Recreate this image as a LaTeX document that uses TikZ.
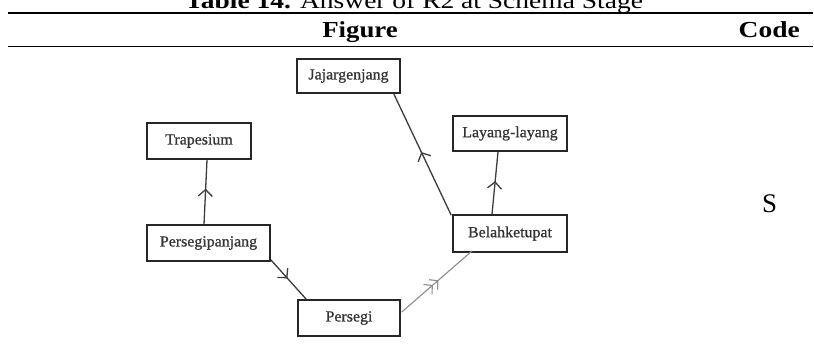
\documentclass[tikz,border=0pt]{standalone}
\usepackage{fontspec}
\setmainfont{Liberation Serif}
\newfontfamily\boxfont[FakeBold=0.8]{Liberation Serif}
\usetikzlibrary{arrows.meta,decorations.markings,calc}
\definecolor{boxline}{HTML}{262626}
\definecolor{conn}{HTML}{3C3C3C}
\definecolor{connlight}{HTML}{8C8C8C}
\definecolor{txt}{HTML}{333333}
\tikzset{
  shapebox/.style={draw=boxline, line width=1.5bp, inner sep=0pt, text=txt,
    font=\boxfont\fontsize{15.5}{17}\selectfont},
  hdr/.style={anchor=base, inner sep=0pt, font=\fontsize{23}{27}\selectfont\bfseries},
  chev/.style={line width=1.3bp, draw=conn, postaction={decorate},
    decoration={markings, mark=at position #1 with {\arrow{Straight Barb[length=6.5bp,width=14bp,line width=1.3bp]}}}},
  chevdouble/.style={line width=1.1bp, draw=connlight, postaction={decorate},
    decoration={markings, mark=at position #1 with {\arrow{Straight Barb[length=6bp,width=13bp,line width=1.1bp] Straight Barb[length=6bp,width=13bp,line width=1.1bp]}}}},
}
\begin{document}
\begin{tikzpicture}[x=1bp,y=-1bp]
\useasboundingbox (0,0) rectangle (814,354);
\clip (0,0) rectangle (814,354);
% table rules
\draw[line width=1.6bp] (8,13) -- (813,13);
\draw[line width=0.8bp] (8,46.5) -- (813,46.5);
\draw[line width=1.6bp] (8,46.5) -- (124,46.5);
\draw[line width=1.6bp] (597,46.5) -- (813,46.5);
% title and headers
\node[anchor=base, inner sep=0pt, font=\fontsize{23}{27}\selectfont] (title) at (414,8)
  {\scalebox{1.2}[1]{\textbf{Table 14.} Answer of R2 at Schema Stage}};
\node[hdr] (hfig) at (360,37) {\scalebox{1.17}[1]{Figure}};
\node[hdr, anchor=base east] (hcode) at (800,37) {\scalebox{1.2}[1]{Code}};
\node[anchor=base, inner sep=0pt, font=\fontsize{27}{30}\selectfont] (code) at (769.5,212) {S};
% boxes
\node[shapebox, minimum width=103bp, minimum height=34bp] (jaj) at (348.5,76) {\scalebox{1.03}[1]{Jajargenjang}};
\node[shapebox, minimum width=104bp, minimum height=36bp] (trap) at (199,141) {\scalebox{1.03}[1]{Trapesium}};
\node[shapebox, minimum width=114bp, minimum height=35bp] (lay) at (510,133.5) {\scalebox{1.03}[1]{Layang-layang}};
\node[shapebox, minimum width=123bp, minimum height=36bp] (pp) at (208.5,243) {\scalebox{1.03}[1]{Persegipanjang}};
\node[shapebox, minimum width=102bp, minimum height=36bp] (per) at (349,318) {\scalebox{1.03}[1]{Persegi}};
\node[shapebox, minimum width=114bp, minimum height=37bp] (bk) at (510,233.5) {\scalebox{1.03}[1]{Belahketupat}};
% connectors
\draw[chev=0.55] ($(pp.north)+(-4.5,0)$) -- ($(trap.south)+(8,0)$);
\draw[chev=0.47] ($(pp.south east)+(0,-2)$) -- ($(per.north west)+(9,0)$);
\draw[chevdouble=0.52] ($(per.east)+(1,-6)$) -- ($(bk.south west)+(20,-2)$);
\draw[chev=0.52] ($(bk.north west)+(-1,1)$) -- ($(jaj.south east)+(-7,0)$);
\draw[chev=0.53] ($(bk.north)+(-18,0)$) -- ($(lay.south)+(-12,0)$);
\end{tikzpicture}
\end{document}
